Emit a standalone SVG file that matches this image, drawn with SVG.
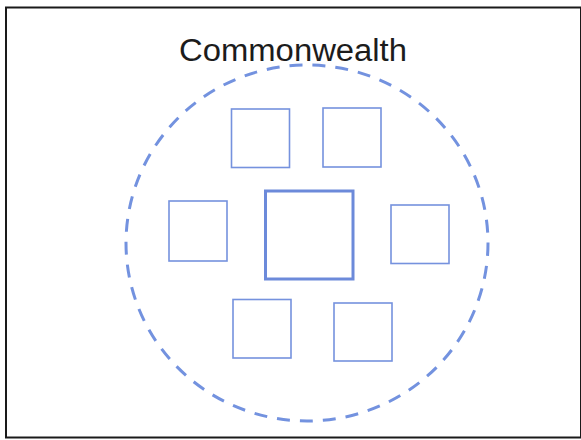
<svg xmlns="http://www.w3.org/2000/svg" width="581" height="440" viewBox="0 0 581 440">
<style>
.box{fill:none;stroke:#7592de;stroke-width:1.6}
.main{fill:none;stroke:#6c8ada;stroke-width:3}
.title{font-family:"Liberation Sans",Arial,sans-serif;font-size:31px;fill:#1c1c1c}
</style>
<rect width="581" height="440" fill="#ffffff"/>
<rect x="6" y="7.5" width="575" height="430" fill="none" stroke="#1a1a1a" stroke-width="2"/>
<text class="title" x="293" y="61" text-anchor="middle" textLength="228" lengthAdjust="spacingAndGlyphs">Commonwealth</text>
<g id="commonwealth-boundary">
<ellipse cx="307" cy="243" rx="181" ry="178" fill="none" stroke="#7392df" stroke-width="3" stroke-dasharray="13 10"/>
</g>
<g id="center"><rect class="main" x="265.5" y="191" width="87.5" height="88"/></g>
<g id="top-left"><rect class="box" x="231.5" y="109" width="58" height="58.5"/></g>
<g id="top-right"><rect class="box" x="323" y="108" width="58" height="59"/></g>
<g id="left"><rect class="box" x="169" y="201" width="58" height="60"/></g>
<g id="right"><rect class="box" x="391" y="205" width="58" height="58.5"/></g>
<g id="bottom-left"><rect class="box" x="233" y="299.5" width="58" height="58.5"/></g>
<g id="bottom-right"><rect class="box" x="334" y="303" width="58" height="58"/></g>
<g id="connectors"/>
</svg>
